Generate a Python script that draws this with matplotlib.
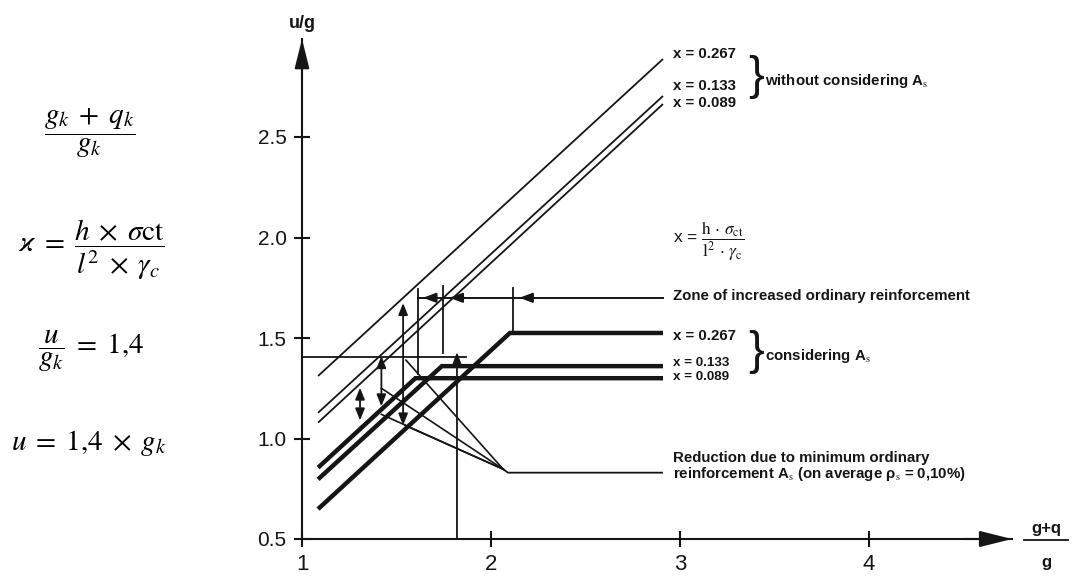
import matplotlib
matplotlib.use("Agg")
import matplotlib.pyplot as plt
from matplotlib.lines import Line2D

plt.rcParams['font.family'] = ['Liberation Sans', 'DejaVu Sans']
plt.rcParams['mathtext.fontset'] = 'stix'

INK = '#151515'

# ---------------- data ----------------
kappa_labels = ['0.267', '0.133', '0.089']
line_x = [1.085, 2.91]
thin_start = [1.311, 1.128, 1.079]
thin_end = [2.888, 2.704, 2.664]
thick_start = [0.649, 0.797, 0.855]
thick_kink_x = [2.10, 1.74, 1.60]
thick_plateau = [1.525, 1.36, 1.30]

arrow_x = [1.307, 1.42, 1.535]
arrow_lo = [1.09, 1.16, 1.065]
arrow_hi = [1.253, 1.41, 1.674]

zone_y = 1.70
zone_x = [1.614, 2.91]
zone_tick_x = [1.614, 1.744, 2.117]
zone_tick_top = [1.745, 1.76, 1.75]
zone_tick_bot = [1.32, 1.427, 1.525]
zone_arrow_tips = [1.64, 1.78, 2.15]

ratio_u = 1.405
ratio_u_x = [1.0, 1.87]
ratio_x = 1.82
ratio_x_top = 1.43

fan_end_x = [1.55, 1.42, 1.42, 1.545]
fan_end_y = [1.39, 1.25, 1.12, 1.065]
fan_node = (2.065, 0.847)
reduction_y = 0.83
reduction_x = [2.09, 2.905]

x_ticks = [1, 2, 3, 4]
x_tick_labels = ['1', '2', '3', '4']
y_ticks = [0.5, 1.0, 1.5, 2.0, 2.5]
y_tick_labels = ['0.5', '1.0', '1.5', '2.0', '2.5']

thin_label_y = [2.913, 2.754, 2.671]
thick_label_y = [1.51, 1.378, 1.306]

# ---------------- figure ----------------
W, H = 1073, 577
fig = plt.figure(figsize=(W / 100, H / 100), dpi=100)
ax = fig.add_axes([302 / W, (H - 539) / H, (1012 - 302) / W, (539 - 39) / H])
ax.set_xlim(1, 1 + (1012 - 302) / 189)
ax.set_ylim(0.5, 0.5 + (539 - 39) / 201)
for s in ['top', 'right']:
    ax.spines[s].set_visible(False)
for s in ['left', 'bottom']:
    ax.spines[s].set_linewidth(1.5)
    ax.spines[s].set_color(INK)
ax.set_xticks(x_ticks, x_tick_labels)
ax.set_yticks(y_ticks, y_tick_labels)
ax.tick_params(direction='inout', length=12, width=1.5, colors=INK, labelsize=15, pad=5)
ax.tick_params(axis='x', labelsize=16)

# axis arrow heads
ax.annotate('', xy=(1, ax.get_ylim()[1]), xytext=(1, ax.get_ylim()[1] - 0.2),
            arrowprops=dict(arrowstyle='-|>,head_length=1.8,head_width=0.45', lw=1.5,
                            color=INK, shrinkA=0, shrinkB=0), annotation_clip=False)
ax.annotate('', xy=(ax.get_xlim()[1], 0.5), xytext=(ax.get_xlim()[1] - 0.25, 0.5),
            arrowprops=dict(arrowstyle='-|>,head_length=2.0,head_width=0.5', lw=1.5,
                            color=INK, shrinkA=0, shrinkB=0), annotation_clip=False)

# thin lines (without considering As)
for ys, ye in zip(thin_start, thin_end):
    ax.plot(line_x, [ys, ye], color=INK, lw=1.3, solid_capstyle='butt', clip_on=False)

# thick lines (considering As)
for ys, kx, yp in zip(thick_start, thick_kink_x, thick_plateau):
    ax.plot([line_x[0], kx, line_x[1]], [ys, yp, yp], color=INK, lw=3.2,
            solid_joinstyle='miter', solid_capstyle='butt', clip_on=False)

# double arrows
for xa, lo, hi in zip(arrow_x, arrow_lo, arrow_hi):
    ax.annotate('', xy=(xa, hi), xytext=(xa, lo),
                arrowprops=dict(arrowstyle='<|-|>,head_length=0.7,head_width=0.28', lw=1.3,
                                color=INK, shrinkA=0, shrinkB=0))

# zone of increased ordinary reinforcement
ax.plot(zone_x, [zone_y, zone_y], color=INK, lw=1.4)
for xt, yt, yb in zip(zone_tick_x, zone_tick_top, zone_tick_bot):
    ax.plot([xt, xt], [yb, yt], color=INK, lw=1.3)
for tip in zone_arrow_tips:
    ax.annotate('', xy=(tip, zone_y), xytext=(tip + 0.08, zone_y),
                arrowprops=dict(arrowstyle='-|>,head_length=0.8,head_width=0.3', lw=1.3,
                                color=INK, shrinkA=0, shrinkB=0))

# u/g = 1.4 guide
ax.plot(ratio_u_x, [ratio_u, ratio_u], color=INK, lw=1.3)
ax.annotate('', xy=(ratio_x, ratio_x_top), xytext=(ratio_x, 0.5),
            arrowprops=dict(arrowstyle='-|>,head_length=0.8,head_width=0.3', lw=1.3,
                            color=INK, shrinkA=0, shrinkB=0))

# reduction fan
for fx, fy in zip(fan_end_x, fan_end_y):
    ax.plot([fan_node[0], fx], [fan_node[1], fy], color=INK, lw=1.2)
ax.plot([fan_node[0], reduction_x[0], reduction_x[1]],
        [fan_node[1], reduction_y, reduction_y], color=INK, lw=1.3)

# ---------------- labels ----------------
lab_x = 2.963
fs = 10.8
for lab, y in zip(kappa_labels, thin_label_y):
    ax.text(lab_x, y, 'x = ' + lab, fontsize=fs, fontweight='bold', va='center', ha='left',
            color=INK, clip_on=False)
for lab, y, f in zip(kappa_labels, thick_label_y, [fs, 9.6, 9.6]):
    ax.text(lab_x, y, 'x = ' + lab, fontsize=f, fontweight='bold', va='center', ha='left',
            color=INK, clip_on=False)
ax.text(3.36, 2.80, '}', fontsize=34, va='center', ha='left', color=INK, fontweight='light')
ax.text(3.36, 1.43, '}', fontsize=34, va='center', ha='left', color=INK, fontweight='light')
ax.text(3.45, 2.779, 'without considering A$_\\mathrm{s}$', fontsize=fs, fontweight='bold',
        va='center', ha='left', color=INK)
ax.text(3.45, 1.41, 'considering A$_\\mathrm{s}$', fontsize=fs, fontweight='bold',
        va='center', ha='left', color=INK)
ax.text(lab_x, 1.98, r'x = $\dfrac{\mathrm{h}\,\cdot\,\sigma_{\mathrm{ct}}}{\mathrm{l}^2\,\cdot\,\gamma_{\mathrm{c}}}$',
        fontsize=12.5, va='center', ha='left', color=INK)
ax.text(lab_x, 1.709, 'Zone of increased ordinary reinforcement', fontsize=fs, fontweight='bold',
        va='center', ha='left', color=INK)
ax.text(lab_x, 0.905, 'Reduction due to minimum ordinary', fontsize=fs, fontweight='bold',
        va='center', ha='left', color=INK)
ax.text(lab_x, 0.822, 'reinforcement A$_\\mathrm{s}$ (on average ρ$_\\mathrm{s}$ = 0,10%)', fontsize=fs,
        fontweight='bold', va='center', ha='left', color=INK)

# axis titles
fig.text(302 / W, 1 - 24 / H, 'u/g', fontsize=13, fontweight='bold', ha='center', va='center', color=INK)
fig.text(1046 / W, 1 - 528 / H, 'g+q', fontsize=12, fontweight='bold', ha='center', va='center', color=INK)
fig.add_artist(Line2D([1024 / W, 1068 / W], [1 - 540 / H, 1 - 540 / H], color=INK, lw=1.3))
fig.text(1046 / W, 1 - 562 / H, 'g', fontsize=12, fontweight='bold', ha='center', va='center', color=INK)

# left formulas
ffs = 21
fig.text(90 / W, 1 - 133 / H, r'$\dfrac{g_k\;+\;q_k}{g_k}$', fontsize=ffs, ha='center', va='center')
fig.text(91 / W, 1 - 250 / H,
         r'$ϰ\;=\;\dfrac{h\;\times\;\sigma\mathrm{ct}}{l^2\;\times\;\gamma_c}$',
         fontsize=ffs, ha='center', va='center')
fig.text(91 / W, 1 - 351 / H, r'$\dfrac{u}{g_k}\;=\;1{,}4$', fontsize=ffs, ha='center', va='center')
fig.text(89 / W, 1 - 443 / H, r'$u\;=\;1{,}4\;\times\;g_k$', fontsize=ffs, ha='center', va='center')

fig.savefig('out.png', dpi=100, facecolor='white')
